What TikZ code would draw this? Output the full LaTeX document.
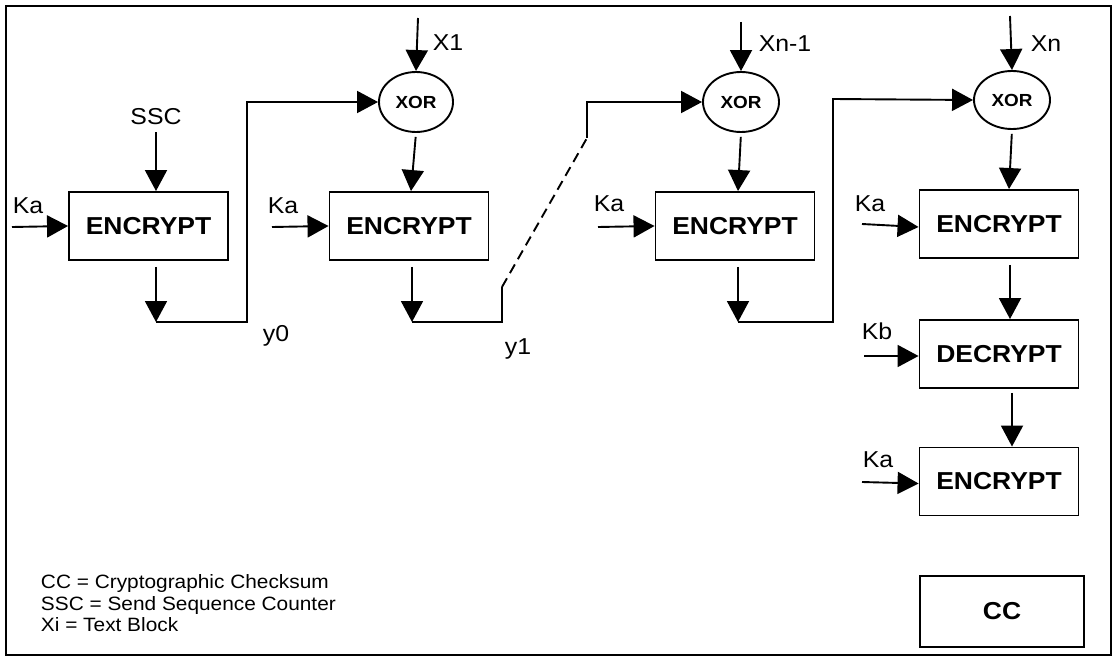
\documentclass[tikz,border=0pt]{standalone}
\usepackage{fontspec}
\setmainfont{Liberation Sans}[FakeStretch=1.08]
\usetikzlibrary{arrows.meta,shapes.geometric,calc}
\begin{document}
\begin{tikzpicture}[x=1pt,y=-1pt,line width=1.9pt,
  blk/.style={draw,rectangle,minimum width=159pt,minimum height=68pt,inner sep=0pt,font=\fontsize{24.5}{28}\selectfont\bfseries},
  xorn/.style={draw,ellipse,minimum width=74pt,minimum height=60pt,inner sep=0pt,font=\fontsize{17.5}{20}\selectfont\bfseries},
  lbl/.style={inner sep=0pt,font=\fontsize{23}{26}\selectfont},
  arr/.style={-{Triangle[length=21pt,width=22pt]}}]
\useasboundingbox (0,0) rectangle (1114,658);
\draw[line width=2.2pt] (6,6) rectangle (1111,655);

% boxes
\node[blk] (e1) at (148.5,226) {ENCRYPT};
\node[blk] (e2) at (409,226) {ENCRYPT};
\node[blk] (e3) at (735,226) {ENCRYPT};
\node[blk] (e4) at (999,224) {ENCRYPT};
\node[blk] (d5) at (999,354) {DECRYPT};
\node[blk] (e6) at (999,481.5) {ENCRYPT};
\node[blk,minimum width=164pt,minimum height=71pt] (cc) at (1002,611.5) {CC};

% xors
\node[xorn] (x1) at (416,102) {XOR};
\node[xorn,minimum width=76pt] (x2) at (741,102) {XOR};
\node[xorn,minimum width=76pt,minimum height=58pt] (x3) at (1012,100) {XOR};

% labels
\node[lbl] (ka1) at (28,206) {Ka};
\node[lbl] (ssc) at (156,117) {SSC};
\node[lbl] (ka2) at (283,206) {Ka};
\node[lbl] (lx1) at (448,43) {X1};
\node[lbl] (ka3) at (609,204) {Ka};
\node[lbl] (lxn1) at (785,44) {Xn-1};
\node[lbl] (lxn) at (1046,44) {Xn};
\node[lbl] (ka4) at (870,204) {Ka};
\node[lbl] (kb) at (877,331) {Kb};
\node[lbl] (ka6) at (878,460) {Ka};
\node[lbl] (y0) at (276,336) {y0};
\node[lbl] (y1) at (518,349) {y1};

% free ends
\coordinate (s1) at (12,227);
\coordinate (s2) at (272,227);
\coordinate (s3) at (598,227);
\coordinate (s4) at (862,224);
\coordinate (s5) at (864,356);
\coordinate (s6) at (862,482);
\coordinate (i1) at (418,18);
\coordinate (i2) at (741,22);
\coordinate (i3) at (1010,16);
\coordinate (o1) at (156,322);
\coordinate (o2) at (412,322);
\coordinate (o3) at (738,322);
\coordinate (t1) at (247,102);
\coordinate (b2) at (502,287);
\coordinate (t2a) at (587,138);
\coordinate (t2) at (587,102);
\coordinate (t3) at (833,99);

% key inputs
\draw[arr] (s1) -- (e1.west);
\draw[arr] (s2) -- (e2.west);
\draw[arr] (s3) -- (e3.west);
\draw[arr] (s4) -- ($(e4.west)+(0,3)$);
\draw[arr] (s5) -- (d5.west |- s5);
\draw[arr] (s6) -- ($(e6.west)+(0,2)$);

% text inputs
\draw[arr] (ssc.south) ++(0,6) -- (ssc |- e1.north);
\draw[arr] (i1) -- (x1.north);
\draw[arr] (i2) -- (x2.north);
\draw[arr] (i3) -- (x3.north);

% xor to encrypt
\draw[arr,shorten <=4pt] (x1.south) -- ($(e2.north)+(2,0)$);
\draw[arr,shorten <=4pt] (x2.south) -- ($(e3.north)+(3,0)$);
\draw[arr,shorten <=4pt] (x3.south) -- ($(e4.north)+(10,0)$);

% outputs
\draw[arr,shorten <=6pt] (o1 |- e1.south) -- (o1);
\draw[arr,shorten <=6pt] (o2 |- e2.south) -- (o2);
\draw[arr,shorten <=6pt] (o3 |- e3.south) -- (o3);
\draw[arr,shorten <=6pt] ($(e4.south)+(11,0)$) -- ($(d5.north)+(11,0)$);
\draw[arr,shorten <=4pt] ($(d5.south)+(13,0)$) -- ($(e6.north)+(13,0)$);

% chaining
\draw[arr] (o1) -| (t1) -- (x1.west);
\draw (o2) -| (b2);
\draw[dash pattern=on 10pt off 6pt] (b2) -- (t2a);
\draw[arr] (t2a) -- (t2) -- (x2.west);
\draw[arr] (o3) -| (t3) -- (x3.west);

% legend
\node[anchor=north west,inner sep=0pt,align=left,font=\fontsize{19.3}{21.5}\selectfont] (leg) at (40,574)
  {CC = Cryptographic Checksum\\SSC = Send Sequence Counter\\Xi = Text Block};
\end{tikzpicture}
\end{document}
